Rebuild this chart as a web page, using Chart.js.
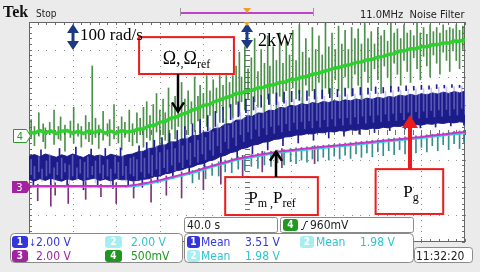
<!DOCTYPE html>
<html><head><meta charset="utf-8">
<script src="https://cdn.jsdelivr.net/npm/chart.js@4.4.1/dist/chart.umd.min.js"></script>
<style>html,body{margin:0;padding:0;background:#ebebeb;}canvas{display:block;}</style>
</head><body>
<canvas id="c" width="480" height="272"></canvas>
<script>
// ---- data (time in s, amplitude in divisions) ----
const times5 = [0,5,10,15,20,25,30,35,40,45,50,55,60,65,70,75,80,85,90,95,100,105,110,115,120,125,130,135,140,145,150,155,160,165,170,175,180,185,190,195,200,205,210,215,220,225,230,235,240,245,250,255,260,265,270,275,280,285,290,295,300,305,310,315,320,325,330,335,340,345,350,355,360,365,370,375,380,385,390,395,400];
const speedTrace = [0.02,-0.05,0.06,-0.03,0.04,-0.06,0.03,0.05,-0.04,0.02,-0.05,0.04,-0.02,0.06,-0.04,0.03,-0.05,0.05,0.0,
 0.03,0.1,0.12,0.22,0.24,0.36,0.38,0.5,0.54,0.64,0.7,0.8,0.86,0.97,1.0,1.1,1.17,1.24,1.3,1.4,1.42,
 1.5,1.52,1.6,1.62,1.7,1.72,1.8,1.82,1.9,1.92,1.99,
 2.02,2.1,2.13,2.2,2.25,2.32,2.35,2.42,2.45,2.53,2.55,
 2.62,2.64,2.72,2.75,2.82,2.85,2.94,
 2.96,3.03,3.03,3.1,3.1,3.17,3.18,3.24,3.24,3.31,3.3,3.36];
const pgUpper = [-0.88,-0.82,-0.9,-0.8,-0.86,-0.92,-0.83,-0.89,-0.8,-0.87,-0.93,-0.82,-0.88,-0.84,-0.91,-0.81,-0.86,-0.9,-0.83,
 -0.8,-0.72,-0.7,-0.6,-0.58,-0.48,-0.47,-0.36,-0.36,-0.25,-0.25,-0.13,-0.13,-0.01,0.0,0.13,0.15,0.29,0.3,0.43,0.44,
 0.57,0.57,0.69,0.68,0.79,0.78,0.89,0.87,0.97,0.94,1.03,0.99,1.07,1.03,1.11,1.07,1.14,1.1,1.17,1.13,1.2,1.16,1.23,1.19,1.26,1.22,1.29,1.26,1.34,1.3,1.37,1.32,1.39,1.35,1.42,1.38,1.45,1.4,1.47,1.42,1.49];
const pgLower = [-1.72,-1.78,-1.7,-1.76,-1.68,-1.74,-1.79,-1.7,-1.75,-1.69,-1.77,-1.72,-1.68,-1.76,-1.71,-1.78,-1.7,-1.74,-1.73,
 -1.78,-1.76,-1.72,-1.7,-1.62,-1.6,-1.52,-1.49,-1.41,-1.38,-1.3,-1.27,-1.18,-1.15,-1.05,-1.01,-0.9,-0.85,-0.75,-0.71,-0.61,
 -0.57,-0.48,-0.45,-0.37,-0.35,-0.27,-0.25,-0.18,-0.17,-0.11,-0.11,-0.06,-0.07,-0.02,-0.03,0.02,0.0,0.05,0.03,0.08,0.06,0.11,0.09,0.14,0.12,0.17,0.15,0.21,0.2,0.25,0.23,0.27,0.25,0.3,0.28,0.33,0.31,0.35,0.33,0.37,0.35];
const pmTimes = [0,90,100,110,120,130,140,150,160,170,180,190,200,210,220,230,240,250,260,270,280,290,300,310,320,330,340,350,360,370,380,390,400];
const pmTrace = [-1.96,-1.96,-1.91,-1.84,-1.75,-1.65,-1.55,-1.45,-1.33,-1.21,-1.1,-0.98,-0.91,-0.84,-0.77,-0.71,-0.66,-0.62,-0.58,-0.54,-0.5,-0.46,-0.42,-0.38,-0.34,-0.3,-0.26,-0.22,-0.18,-0.13,-0.09,-0.04,0.0];
const prefTrace = [-2.0,-2.0,-1.96,-1.89,-1.8,-1.7,-1.6,-1.5,-1.38,-1.26,-1.15,-1.03,-0.96,-0.89,-0.82,-0.76,-0.71,-0.67,-0.63,-0.59,-0.55,-0.51,-0.47,-0.43,-0.39,-0.35,-0.31,-0.27,-0.23,-0.18,-0.14,-0.09,-0.05];
// noise spikes: [time, low, high]
const speedSpikes = [[2,-0.2,0.45],[5,-0.5,0.2],[9,-0.15,0.7],[13,-0.35,0.3],[15,-0.6,0.15],[19,-0.1,0.35],[23,-0.45,0.8],[27,-0.25,0.2],[29,-0.3,0.55],[33,-0.7,0.25],[38,-0.2,0.4],[41,-0.4,0.9],[45,-0.15,0.3],[48,-0.55,0.2],[52,-0.25,0.6],[55,-0.35,0.35],[58,-0.45,2.4],[61,-0.2,0.5],[64,-0.6,0.25],[68,-0.3,0.75],[72,-0.15,0.3],[74,-0.5,0.45],[78,-0.25,1.0],[82,-0.4,0.2],[85,-0.65,0.55],[88,-0.2,0.35],[92,-0.35,0.8],[95,-0.5,0.3],
 [99,-0.4,0.7],[102,-0.1,0.5],[105,-0.55,0.9],[108,-0.2,1.1],[111,-0.3,0.6],[114,-0.6,1.0],[117,0.0,1.4],[120,-0.45,0.8],[123,-0.1,1.2],[125,-0.3,0.7],[128,-0.5,1.6],[131,0.1,1.0],[134,-0.25,1.3],[137,0.2,0.95],[140,-0.3,1.8],[143,0.1,1.2],[146,-0.1,1.5],[149,0.3,1.1],[152,0.0,2.0],[155,0.4,1.3],[157,-0.05,1.7],[160,0.5,1.4],[163,0.2,2.05],[166,0.6,1.5],[169,0.1,1.9],[172,0.7,1.6],[175,0.35,2.05],[178,0.8,1.7],[181,0.3,2.05],[184,0.9,1.8],[187,0.5,2.05],
 [190,1.0,2.4],[193,0.6,2.9],[195,1.1,2.0],[198,0.8,3.1],[201,1.2,2.3],[204,0.5,2.7],[207,1.1,3.4],[210,0.9,2.2],[213,1.3,3.0],[216,0.7,2.5],[219,1.2,3.5],[221,1.0,2.4],[224,1.4,3.1],[227,0.8,2.6],[230,1.3,3.6],[233,1.1,2.5],[236,1.5,3.3],[239,0.9,2.8],[242,1.6,3.7],[245,1.2,2.6],[248,1.4,3.9],[251,0.8,2.9],[254,1.7,3.4],[257,1.3,2.7],[260,1.5,3.8],[263,1.0,3.0],[266,1.8,3.5],[269,1.2,2.8],[272,1.6,3.95],[275,1.4,3.1],[278,1.0,3.6],[281,1.9,3.0],[284,1.5,3.85],[287,1.1,3.2],[290,2.0,3.7],[293,1.6,3.0],[296,1.3,3.8],[299,2.1,3.4],[302,1.7,3.75],[305,1.2,3.2],[308,2.2,3.95],[311,1.8,3.4],[314,1.5,3.65],[317,2.3,3.2],[320,1.9,3.8],[323,1.4,3.5],[326,2.4,3.7],[329,2.0,3.3],[332,1.6,3.95],[335,2.5,3.6],[338,2.1,3.75],[341,1.7,3.4],[344,2.6,3.9],[347,2.2,3.6],[350,1.8,3.7],[353,2.7,3.5],[356,2.3,3.95],[359,1.9,3.6],[362,2.75,3.8],[365,2.4,3.55],[368,2.0,3.9],[371,2.8,3.65],[374,2.5,3.8],[377,2.1,3.6],[380,2.9,3.9],[383,2.6,3.7],[386,2.2,3.8],[389,2.95,3.75],[392,2.6,3.9],[395,2.3,3.7],[398,3.0,3.85]];
const pgLightSpikes = [[2,-1.55,-1.0],[5,-1.7,-1.25],[9,-1.45,-0.9],[12,-1.8,-1.35],[16,-1.6,-1.05],[19,-1.5,-0.8],[23,-1.85,-1.3],[26,-1.55,-1.1],[30,-1.7,-0.95],[33,-1.45,-1.15],[37,-1.9,-1.2],[40,-1.6,-0.85],[44,-1.75,-1.3],[47,-1.5,-1.0],[51,-1.8,-1.1],[54,-1.65,-0.9],[58,-1.55,-1.25],[61,-1.85,-1.05],[65,-1.5,-0.82],[68,-1.7,-1.2],[72,-1.6,-1.0],[75,-1.9,-1.35],[79,-1.5,-0.9],[82,-1.72,-1.1],[86,-1.58,-0.86],[89,-1.8,-1.25],[93,-1.52,-0.95],
 [96,-1.6,-0.9],[99,-1.75,-1.0],[103,-1.45,-0.7],[106,-1.65,-0.95],[110,-1.5,-0.6],[113,-1.6,-0.85],[117,-1.35,-0.5],[120,-1.55,-0.75],[124,-1.3,-0.45],[127,-1.45,-0.65],[131,-1.2,-0.35],[134,-1.4,-0.6],[138,-1.1,-0.25],[141,-1.3,-0.5],[145,-1.0,-0.15],[148,-1.2,-0.4],[152,-0.9,-0.05],[155,-1.1,-0.3],[159,-0.8,0.05],[162,-1.0,-0.2],[166,-0.65,0.15],[169,-0.85,0.0],[173,-0.5,0.3],[176,-0.75,0.15],[180,-0.35,0.45],[183,-0.6,0.25],[187,-0.2,0.55],[190,-0.5,0.35],[194,-0.1,0.7],[197,-0.35,0.5],
 [201,0.0,0.8],[204,-0.25,0.55],[208,0.1,0.9],[211,-0.15,0.65],[215,0.15,0.95],[218,-0.1,0.7],[222,0.2,1.0],[225,-0.05,0.8],[229,0.25,1.1],[232,0.0,0.85],[236,0.3,1.15],[239,0.05,0.9],[243,0.35,1.2],[246,0.1,0.95],[250,0.38,1.25],[253,0.12,0.98],[257,0.4,1.22],[260,0.15,1.05],[264,0.42,1.28],[267,0.18,1.02],[271,0.45,1.3],[274,0.2,1.08],[278,0.48,1.32],[281,0.22,1.1],[285,0.5,1.35],[288,0.25,1.12],[292,0.52,1.36],[295,0.28,1.15],[299,0.55,1.38],
 [302,0.3,1.18],[306,0.58,1.4],[309,0.32,1.2],[313,0.6,1.42],[316,0.35,1.22],[320,0.62,1.45],[323,0.38,1.25],[327,0.65,1.48],[330,0.4,1.28],[334,0.68,1.5],[337,0.42,1.3],[341,0.7,1.52],[344,0.45,1.34],[348,0.72,1.55],[351,0.48,1.36],[355,0.74,1.56],[358,0.5,1.38],[362,0.76,1.58],[365,0.52,1.4],[369,0.78,1.6],[372,0.55,1.42],[376,0.8,1.62],[379,0.58,1.44],[383,0.82,1.64],[386,0.6,1.46],[390,0.84,1.65],[393,0.62,1.48],[397,0.86,1.66],[400,0.64,1.5]];
const pgDarkSpikes = [[4,-2.0,-1.5],[11,-1.2,-0.65],[20,-2.05,-1.6],[28,-1.1,-0.6],[35,-1.95,-1.5],[43,-1.15,-0.55],[50,-2.1,-1.6],[57,-1.1,-0.62],[63,-2.0,-1.55],[70,-1.2,-0.6],[77,-2.05,-1.6],[84,-1.1,-0.58],[91,-1.98,-1.5],
 [101,-0.9,-0.5],[108,-0.8,-0.38],[115,-0.7,-0.3],[122,-0.6,-0.2],[129,-0.5,-0.05],[136,-0.4,0.05],[143,-0.3,0.2],[150,-0.2,0.3],[157,-0.05,0.45],[164,0.05,0.6],[171,0.2,0.75],[178,0.35,0.9],[185,0.45,1.0],[192,0.55,1.1],[199,0.7,1.2],[206,0.8,1.28],[213,0.9,1.32],[220,1.0,1.38],[227,1.0,1.42],[234,1.05,1.45],[241,1.1,1.48],[248,1.15,1.52],[255,1.15,1.5],[262,1.2,1.55],[269,1.22,1.52],[276,1.25,1.58],[283,1.28,1.55],[290,1.3,1.6],[297,1.32,1.58],[304,1.35,1.62],[311,1.38,1.6],[318,1.4,1.64],[325,1.42,1.62],[332,1.45,1.66],[339,1.48,1.64],[346,1.5,1.68],[353,1.52,1.66],[360,1.55,1.7],[367,1.56,1.68],[374,1.58,1.72],[381,1.6,1.7],[388,1.62,1.72],[395,1.62,1.7],
 [104,-2.0,-1.6],[118,-1.85,-1.4],[132,-1.7,-1.3],[147,-1.55,-1.15],[161,-1.35,-1.0],[176,-1.15,-0.8],[191,-0.95,-0.6],[205,-0.8,-0.4],[219,-0.65,-0.25],[233,-0.5,-0.1],[247,-0.4,0.0],[261,-0.3,0.05],[275,-0.22,0.1],[289,-0.15,0.15],[303,-0.08,0.2],[317,-0.02,0.25],[331,0.05,0.3],[345,0.1,0.35],[359,0.15,0.4],[373,0.18,0.42],[387,0.22,0.45],[399,0.25,0.5]];
const prefSpikes = [[150,-1.85,-1.4],[156,-1.72,-1.32],[162,-1.7,-1.25],[168,-1.58,-1.15],[174,-1.6,-1.08],[180,-1.45,-1.02],[186,-1.48,-0.95],[192,-1.35,-0.9],[198,-1.4,-0.85],[204,-1.25,-0.82],[210,-1.32,-0.78],[216,-1.2,-0.72],[222,-1.25,-0.7],[228,-1.12,-0.66],[234,-1.2,-0.64],[240,-1.08,-0.6],[245,-1.15,-0.58],[250,-1.02,-0.56],[255,-1.1,-0.54],[260,-0.98,-0.52],[265,-1.06,-0.5],[270,-0.92,-0.48],[275,-1.02,-0.46],[280,-0.88,-0.44],[285,-0.98,-0.42],[290,-0.84,-0.4],[295,-0.96,-0.38],[300,-0.8,-0.36],[305,-0.92,-0.34],[310,-0.76,-0.32],[315,-0.9,-0.3],[320,-0.72,-0.28],[325,-0.86,-0.26],[330,-0.68,-0.24],[335,-0.82,-0.22],[340,-0.64,-0.2],[345,-0.8,-0.18],[350,-0.6,-0.16],[355,-0.76,-0.14],[360,-0.56,-0.12],[365,-0.72,-0.1],[370,-0.5,-0.08],[375,-0.68,-0.05],[380,-0.46,-0.03],[385,-0.64,0.0],[390,-0.42,0.02],[395,-0.6,0.04],[399,-0.38,0.06]];
const pmSpikes = [[8,-2.5,-1.9],[20,-2.7,-1.9],[24,-2.3,-1.85],[36,-2.6,-1.9],[52,-2.45,-1.8],[66,-2.35,-1.9],[80,-2.6,-1.85],[96,-2.4,-1.8],[112,-2.55,-1.7],[126,-2.3,-1.6],[140,-2.4,-1.45],[160,-2.1,-1.3],[176,-1.9,-1.1],[196,-1.6,-0.85],[214,-1.45,-0.7],[232,-1.3,-0.6],[262,-1.15,-0.5]];
const channelScales = ['2.00 V','2.00 V','2.00 V','500mV'];
const timeScale = '40.0 s';

// ---- helpers ----
const xy = (ts, vs) => vs.map((v,i)=>({x:ts[i], y:v}));
const spk = arr => arr.map(s=>({x:s[0], y:[s[1], s[2]]}));
const NARROW = '"Liberation Sans Narrow","DejaVu Sans Condensed","Arial Narrow",sans-serif';
const SERIF = '"Liberation Serif","DejaVu Serif",serif';

function rr(ctx,x,y,w,h,r){ctx.beginPath();ctx.moveTo(x+r,y);ctx.lineTo(x+w-r,y);ctx.quadraticCurveTo(x+w,y,x+w,y+r);ctx.lineTo(x+w,y+h-r);ctx.quadraticCurveTo(x+w,y+h,x+w-r,y+h);ctx.lineTo(x+r,y+h);ctx.quadraticCurveTo(x,y+h,x,y+h-r);ctx.lineTo(x,y+r);ctx.quadraticCurveTo(x,y,x+r,y);ctx.closePath();}
function rich(ctx, parts, cx, base){
  let w=0; parts.forEach(p=>{ctx.font=p[1]+'px '+SERIF; w+=ctx.measureText(p[0]).width;});
  let x=cx-w/2; ctx.textAlign='left'; ctx.textBaseline='alphabetic';
  parts.forEach(p=>{ctx.font=p[1]+'px '+SERIF; ctx.fillText(p[0],x,base+p[2]); x+=ctx.measureText(p[0]).width;});
}
function badge(ctx,x,y,w,h,fill,txt){ctx.fillStyle=fill;rr(ctx,x,y,w,h,3);ctx.fill();ctx.fillStyle='#fff';ctx.font='bold 10px '+NARROW;ctx.textAlign='center';ctx.textBaseline='middle';ctx.fillText(txt,x+w/2,y+h/2+0.5);}
function txt(ctx,s,x,y,col,size){ctx.fillStyle=col;ctx.font=(size||12)+'px '+NARROW;ctx.textAlign='left';ctx.textBaseline='alphabetic';ctx.fillText(s,x,y);}
function dblArrow(ctx,x,y1,y2,col){ctx.fillStyle=col;ctx.strokeStyle=col;ctx.lineWidth=3;ctx.beginPath();ctx.moveTo(x,y1+6);ctx.lineTo(x,y2-6);ctx.stroke();
  ctx.beginPath();ctx.moveTo(x,y1);ctx.lineTo(x-6,y1+9);ctx.lineTo(x+6,y1+9);ctx.closePath();ctx.fill();
  ctx.beginPath();ctx.moveTo(x,y2);ctx.lineTo(x-6,y2-9);ctx.lineTo(x+6,y2-9);ctx.closePath();ctx.fill();}
function chevArrow(ctx,x,yFrom,yTip){const d=yTip>yFrom?1:-1;ctx.strokeStyle='#000';ctx.lineWidth=2.5;ctx.beginPath();ctx.moveTo(x,yFrom);ctx.lineTo(x,yTip);ctx.stroke();
  ctx.beginPath();ctx.moveTo(x-6,yTip-d*9);ctx.lineTo(x,yTip);ctx.lineTo(x+6,yTip-d*9);ctx.stroke();}

const screen = {
  id:'screen',
  beforeDraw(c){
    const {ctx, chartArea:a} = c; ctx.save();
    ctx.fillStyle='#ebebeb'; ctx.fillRect(0,0,c.width,c.height);
    ctx.fillStyle='#fff'; ctx.fillRect(a.left,a.top,a.right-a.left,a.bottom-a.top);
    ctx.restore();
  },
  beforeDatasetsDraw(c){
    const {ctx, chartArea:a, scales:{x,y}} = c; ctx.save();
    ctx.fillStyle='#8c8c8c';
    for(let i=1;i<10;i++){const X=Math.round(x.getPixelForValue(i*40));
      for(let j=0;j<=40;j++){ctx.fillRect(X,Math.round(y.getPixelForValue(-4+j*0.2)),1,1);} }
    for(let j=1;j<8;j++){const Y=Math.round(y.getPixelForValue(-4+j));
      for(let i=0;i<=50;i++){ctx.fillRect(Math.round(x.getPixelForValue(i*8)),Y,1,1);} }
    ctx.fillStyle='#6e6e6e';
    const cx=Math.round(x.getPixelForValue(200)), cy=Math.round(y.getPixelForValue(0));
    for(let j=0;j<=40;j++){const Y=Math.round(y.getPixelForValue(-4+j*0.2));
      ctx.fillRect(cx-2,Y,5,1); ctx.fillRect(a.left,Y,3,1); ctx.fillRect(a.right-3,Y,3,1);}
    for(let i=0;i<=50;i++){const X=Math.round(x.getPixelForValue(i*8));
      ctx.fillRect(X,cy-2,1,5); ctx.fillRect(X,a.top,1,3); ctx.fillRect(X,a.bottom-3,1,3);}
    ctx.strokeStyle='#666'; ctx.lineWidth=1;
    ctx.strokeRect(a.left+0.5,a.top+0.5,a.right-a.left-1,a.bottom-a.top-1);
    ctx.restore();
  },
  afterDatasetsDraw(c){
    const {ctx, scales:{x,y}} = c; const X=t=>x.getPixelForValue(t), Y=v=>y.getPixelForValue(v);
    ctx.save();
    ctx.strokeStyle='#ee1b1b'; ctx.lineWidth=2;
    [[101,188,3.45,2.11],[180,265,-1.64,-3.02],[318,380,-1.35,-2.98]].forEach(b=>{
      ctx.strokeRect(X(b[0]),Y(b[2]),X(b[1])-X(b[0]),Y(b[3])-Y(b[2]));});
    ctx.fillStyle='#000';
    rich(ctx,[['Ω,',18,0],[',',12,3],['Ω',18,0],['ref',12,4]],X(144.5),Y(2.47));
    rich(ctx,[['P',17,0],['m',12,4],[' ,',12,4],['P',17,0],['ref',12,4]],X(223),Y(-2.58));
    rich(ctx,[['P',17,0],['g',12,4]],X(350.4),Y(-2.36));
    chevArrow(ctx,Math.round(X(136.7)),Y(2.11),Y(0.75));
    chevArrow(ctx,Math.round(X(226.6)),Y(-1.64),Y(-0.72));
    const rx=Math.round(X(349.5)), ry1=Y(-1.35), ry2=Y(0.62);
    ctx.strokeStyle='#ee1b1b'; ctx.fillStyle='#ee1b1b'; ctx.lineWidth=4;
    ctx.beginPath(); ctx.moveTo(rx,ry1); ctx.lineTo(rx,ry2+10); ctx.stroke();
    ctx.beginPath(); ctx.moveTo(rx,ry2); ctx.lineTo(rx-8,ry2+13); ctx.lineTo(rx+8,ry2+13); ctx.closePath(); ctx.fill();
    dblArrow(ctx,Math.round(X(40)),Y(3.93),Y(2.98),'#1c3a82');
    dblArrow(ctx,Math.round(X(200)),Y(3.96),Y(3.02),'#1c3a82');
    ctx.fillStyle='#000'; ctx.textAlign='left'; ctx.textBaseline='alphabetic';
    ctx.font='17px '+SERIF; ctx.fillText('100 rad/s',X(46.8),Y(3.35));
    ctx.font='18px '+SERIF; ctx.fillText('2kW',X(210),Y(3.13));
    ctx.restore();
  },
  afterDraw(c){
    const {ctx, chartArea:a, scales:{x,y}} = c; const X=t=>x.getPixelForValue(t), Y=v=>y.getPixelForValue(v);
    ctx.save();
    ctx.fillStyle='#111'; ctx.font='bold 16px '+SERIF; ctx.textAlign='left'; ctx.textBaseline='alphabetic';
    ctx.fillText('Tek',3,17);
    txt(ctx,'Stop',36,17,'#222',10);
    ctx.strokeStyle='#9a9a9a'; ctx.lineWidth=1;
    ctx.beginPath(); ctx.moveTo(180.5,8); ctx.lineTo(180.5,16); ctx.moveTo(313.5,8); ctx.lineTo(313.5,16); ctx.stroke();
    ctx.fillStyle='#c043c6'; ctx.fillRect(181,12,132,2);
    const tx=Math.round(X(200));
    ctx.fillStyle='#f0a020';
    ctx.beginPath(); ctx.moveTo(tx-4,8); ctx.lineTo(tx+4,8); ctx.lineTo(tx,13); ctx.closePath(); ctx.fill();
    ctx.beginPath(); ctx.moveTo(tx-3,a.top); ctx.lineTo(tx+3,a.top); ctx.lineTo(tx,a.top+4); ctx.closePath(); ctx.fill();
    txt(ctx,'11.0MHz  Noise Filter',360,18,'#222',11);
    let my=Math.round(Y(-0.16));
    ctx.fillStyle='#fff'; ctx.strokeStyle='#2a9a2a'; ctx.lineWidth=1;
    ctx.beginPath(); ctx.moveTo(13.5,my-6.5); ctx.lineTo(26.5,my-6.5); ctx.lineTo(30.5,my); ctx.lineTo(26.5,my+6.5); ctx.lineTo(13.5,my+6.5); ctx.closePath(); ctx.fill(); ctx.stroke();
    ctx.fillStyle='#2a9a2a'; ctx.font='11px '+NARROW; ctx.textAlign='center'; ctx.textBaseline='middle'; ctx.fillText('4',20,my+1);
    my=Math.round(Y(-2.0));
    ctx.fillStyle='#a4229f';
    ctx.beginPath(); ctx.moveTo(12,my-6); ctx.lineTo(27,my-6); ctx.lineTo(31,my); ctx.lineTo(27,my+6); ctx.lineTo(12,my+6); ctx.closePath(); ctx.fill();
    ctx.fillStyle='#fff'; ctx.fillText('3',19.5,my+1);
    ctx.strokeStyle='#8a8a8a'; ctx.lineWidth=1;
    [[10.5,233.5,172,29,4],[184.5,233.5,229,29,4],[184.5,217.5,93,15,2],[280.5,217.5,133,15,2],[414.5,247.5,58,15,3]].forEach(p=>{
      ctx.fillStyle='#fff'; rr(ctx,p[0],p[1],p[2],p[3],p[4]); ctx.fill(); ctx.stroke();});
    txt(ctx,timeScale,187,229,'#222',12);
    badge(ctx,283,219,15,12,'#1f9a1f','4');
    ctx.strokeStyle='#222'; ctx.lineWidth=1; ctx.beginPath(); ctx.moveTo(301,229.5); ctx.lineTo(303,229.5); ctx.lineTo(306,221.5); ctx.lineTo(308,221.5); ctx.stroke();
    txt(ctx,'960mV',310,229,'#222',12);
    txt(ctx,'11:32:20',416,260,'#222',12);
    const C1='#3535dc', C2='#2ec4cf', C3='#a4229f', C4='#1f961f', B2='#a6eef2';
    badge(ctx,12,236,16,12,C1,'1'); txt(ctx,'↓',29,246,C1,10); txt(ctx,channelScales[0],36,246,C1,12);
    badge(ctx,105,236,17,12,B2,'2'); txt(ctx,channelScales[1],131,246,C2,12);
    badge(ctx,12,250,16,12,C3,'3'); txt(ctx,channelScales[2],36,260,C3,12);
    badge(ctx,105,250,17,12,C4,'4'); txt(ctx,channelScales[3],131,260,C4,12);
    badge(ctx,187,236,13,12,C1,'1'); txt(ctx,'Mean',201,246,C1,12); txt(ctx,'3.51 V',245,246,C1,12);
    badge(ctx,300,236,14,12,B2,'2'); txt(ctx,'Mean',316,246,C2,12); txt(ctx,'1.98 V',360,246,C2,12);
    badge(ctx,187,250,13,12,B2,'2'); txt(ctx,'Mean',201,260,C2,12); txt(ctx,'1.98 V',245,260,C2,12);
    ctx.restore();
  }
};

const barBase = {type:'bar', barThickness:1, grouped:false, borderWidth:0};
new Chart(document.getElementById('c'), {
  type:'line',
  data:{datasets:[
    Object.assign({}, barBase, {label:'Ω spikes', data:spk(speedSpikes), backgroundColor:'rgba(45,125,45,0.85)', order:10}),
    {label:'Pg upper', data:xy(times5,pgUpper), borderColor:'#1b1b8a', backgroundColor:'#1b1b8a', borderWidth:1, pointRadius:0, fill:'+1', order:9},
    {label:'Pg lower', data:xy(times5,pgLower), borderColor:'#1b1b8a', borderWidth:1, pointRadius:0, fill:false, order:9},
    Object.assign({}, barBase, {label:'Pg spikes dark', data:spk(pgDarkSpikes), backgroundColor:'#1f1f90', order:8}),
    Object.assign({}, barBase, {label:'Pg spikes light', data:spk(pgLightSpikes), backgroundColor:'rgba(150,150,222,0.5)', order:7}),
    {label:'Ω', data:xy(times5,speedTrace), borderColor:'#2ed02e', borderWidth:3.5, pointRadius:0, fill:false, order:6},
    Object.assign({}, barBase, {label:'Pref spikes', data:spk(prefSpikes), backgroundColor:'rgba(30,130,130,0.9)', order:5}),
    Object.assign({}, barBase, {label:'Pm spikes', data:spk(pmSpikes), backgroundColor:'rgba(110,30,110,0.9)', order:4}),
    {label:'Pref', data:xy(pmTimes,prefTrace), borderColor:'#36d0d8', borderWidth:1.5, pointRadius:0, fill:false, order:3},
    {label:'Pm', data:xy(pmTimes,pmTrace), borderColor:'#cc30c8', borderWidth:2, pointRadius:0, fill:false, order:2}
  ]},
  options:{
    responsive:false, animation:false, events:[], devicePixelRatio:1,
    layout:{padding:{left:29,right:15,top:22,bottom:30}},
    scales:{
      x:{type:'linear', min:0, max:400, offset:false, display:false},
      y:{type:'linear', min:-4, max:4, display:false}
    },
    plugins:{legend:{display:false}, tooltip:{enabled:false}}
  },
  plugins:[screen]
});
</script></body></html>
